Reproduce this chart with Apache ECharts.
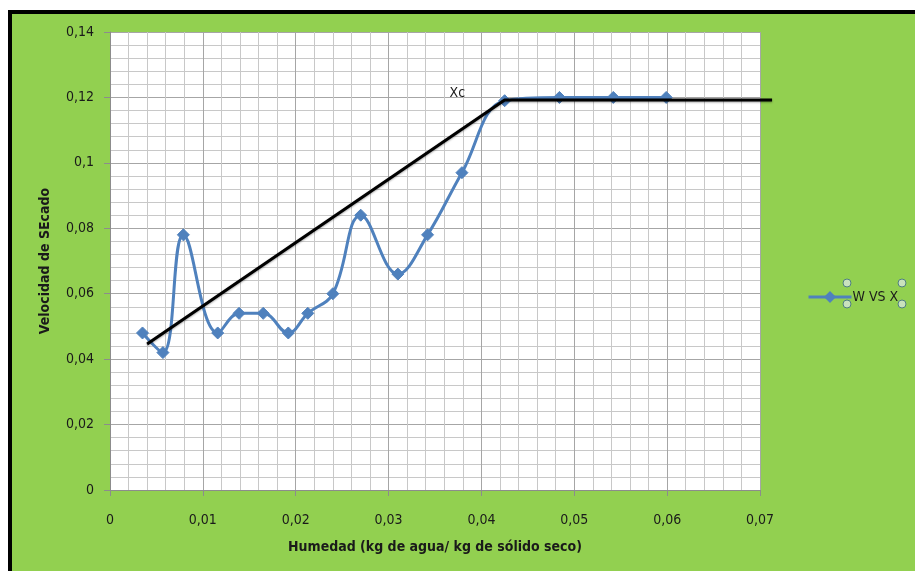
<!DOCTYPE html>
<html>
<head>
<meta charset="utf-8">
<script src="https://cdn.jsdelivr.net/npm/echarts@6/dist/echarts.min.js"></script>
<style>
html,body{margin:0;padding:0;background:#fff;}
#frame{position:absolute;left:8px;top:10px;width:907px;height:561px;background:#92D050;border-left:4px solid #000;border-top:4px solid #000;box-sizing:border-box;}
#chart{position:absolute;left:0;top:0;width:915px;height:571px;}
</style>
</head>
<body>
<div id="frame"></div>
<div id="chart"></div>
<script>
// Data
const moistureX = [0.0035, 0.0057, 0.0079, 0.0116, 0.0139, 0.0165, 0.0192, 0.0213, 0.024, 0.027, 0.031, 0.0342, 0.0379, 0.0425, 0.0484, 0.0542, 0.0599];
const rateW = [0.048, 0.042, 0.078, 0.048, 0.054, 0.054, 0.048, 0.054, 0.060, 0.084, 0.066, 0.078, 0.097, 0.119, 0.120, 0.120, 0.120];
const trendX = [0.0040, 0.0425, 0.0713];
const trendY = [0.0446, 0.1192, 0.1192];
const trendLabels = ['', 'Xc', ''];
const seriesName = 'W VS X';
const xTitle = 'Humedad (kg de agua/ kg de sólido seco)';
const yTitle = 'Velocidad de SEcado';

const FONT = '"DejaVu Sans Condensed", "DejaVu Sans", sans-serif';
const fmt = v => String(Number(v.toFixed(3))).replace('.', ',');

// main plot: x 0..0.07 spans 110..760 px; overlay grid extended to the trend line end
const X_MAX = 0.07, PLOT_LEFT = 110, PLOT_RIGHT_PX = 760;
const pxPerUnit = (PLOT_RIGHT_PX - PLOT_LEFT) / X_MAX;
const overlayMax = trendX[trendX.length - 1];
const overlayRight = 915 - (PLOT_LEFT + overlayMax * pxPerUnit);

const chart = echarts.init(document.getElementById('chart'), null, {renderer: 'canvas'});
const hiddenAxis = {show: false, axisLine: {show: false}, axisTick: {show: false}, axisLabel: {show: false}, splitLine: {show: false}};
const option = {
  backgroundColor: 'transparent',
  animation: false,
  grid: [
    {left: 110, right: 155, top: 32, bottom: 81, show: true, backgroundColor: '#ffffff', borderWidth: 0},
    {left: 110, right: overlayRight, top: 32, bottom: 81, show: false}
  ],
  xAxis: [{
    type: 'value', min: 0, max: X_MAX, interval: 0.01, gridIndex: 0,
    name: xTitle, nameLocation: 'middle', nameGap: 50,
    nameTextStyle: {fontFamily: FONT, fontSize: 14, fontWeight: 'bold', color: '#1a1a1a'},
    axisLine: {show: true, lineStyle: {color: '#8c8c8c', width: 1}},
    axisTick: {show: true, length: 6, lineStyle: {color: '#8c8c8c'}},
    axisLabel: {formatter: fmt, fontFamily: FONT, fontSize: 14, color: '#1a1a1a', margin: 23},
    splitLine: {show: true, lineStyle: {color: '#a6a6a6', width: 1}},
    minorTick: {show: false, splitNumber: 5},
    minorSplitLine: {show: true, lineStyle: {color: '#c8c8c8', width: 1}}
  }, Object.assign({type: 'value', min: 0, max: overlayMax, gridIndex: 1}, hiddenAxis)],
  yAxis: [{
    type: 'value', min: 0, max: 0.14, interval: 0.02, gridIndex: 0,
    name: yTitle, nameLocation: 'middle', nameGap: 58,
    nameTextStyle: {fontFamily: FONT, fontSize: 14, fontWeight: 'bold', color: '#1a1a1a'},
    axisLine: {show: true, lineStyle: {color: '#8c8c8c', width: 1}},
    axisTick: {show: true, length: 6, lineStyle: {color: '#8c8c8c'}},
    axisLabel: {formatter: fmt, fontFamily: FONT, fontSize: 14, color: '#1a1a1a', margin: 16},
    splitLine: {show: true, lineStyle: {color: '#a6a6a6', width: 1}},
    minorTick: {show: false, splitNumber: 5},
    minorSplitLine: {show: true, lineStyle: {color: '#c8c8c8', width: 1}}
  }, Object.assign({type: 'value', min: 0, max: 0.14, gridIndex: 1}, hiddenAxis)],
  legend: {
    data: [{name: seriesName, itemStyle: {color: '#4F81BD'}, lineStyle: {width: 3, color: '#4F81BD'}}],
    left: 802, top: 285, orient: 'vertical',
    itemWidth: 43, itemHeight: 15, itemGap: 4,
    textStyle: {fontFamily: FONT, fontSize: 14, color: '#1a1a1a', padding: [0, 0, 0, -4]}
  },
  series: [
    {
      name: seriesName, type: 'line', smooth: 0.4,
      xAxisIndex: 0, yAxisIndex: 0,
      data: moistureX.map((x, i) => [x, rateW[i]]),
      symbol: 'diamond', symbolSize: 12, showSymbol: true,
      lineStyle: {color: '#4F81BD', width: 3},
      itemStyle: {color: '#4F81BD', borderColor: '#4F81BD'},
      z: 3
    },
    {
      name: 'trend', type: 'line', smooth: false, clip: false,
      xAxisIndex: 1, yAxisIndex: 1,
      data: trendX.map((x, i) => ({value: [x, trendY[i]], label: {show: trendLabels[i] !== '', formatter: trendLabels[i]}})),
      symbol: 'circle', symbolSize: 1, showSymbol: true, showAllSymbol: true,
      itemStyle: {color: 'rgba(0,0,0,0)', borderWidth: 0},
      lineStyle: {color: '#000', width: 3, shadowColor: 'rgba(0,0,0,0.35)', shadowBlur: 2, shadowOffsetY: 1},
      label: {position: 'left', offset: [-34, -7], fontFamily: FONT, fontSize: 14, color: '#1a1a1a'},
      z: 4
    }
  ],
  graphic: [
    {type: 'circle', shape: {cx: 847, cy: 283, r: 4}, style: {fill: '#c9e2bd', stroke: '#4f7f80', lineWidth: 1}, z: 10},
    {type: 'circle', shape: {cx: 902, cy: 283, r: 4}, style: {fill: '#c9e2bd', stroke: '#4f7f80', lineWidth: 1}, z: 10},
    {type: 'circle', shape: {cx: 847, cy: 304, r: 4}, style: {fill: '#c9e2bd', stroke: '#4f7f80', lineWidth: 1}, z: 10},
    {type: 'circle', shape: {cx: 902, cy: 304, r: 4}, style: {fill: '#c9e2bd', stroke: '#4f7f80', lineWidth: 1}, z: 10}
  ]
};
chart.setOption(option);
</script>
</body>
</html>
